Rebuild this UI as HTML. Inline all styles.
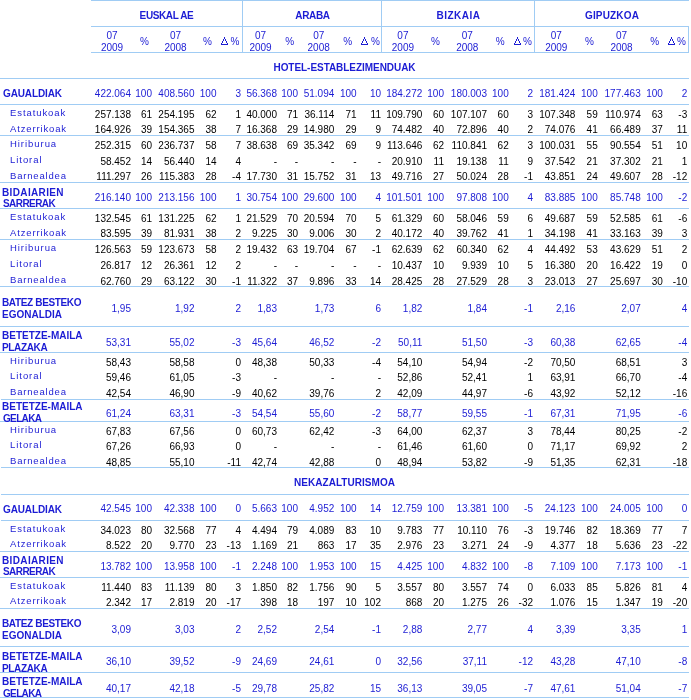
<!DOCTYPE html>
<html><head><meta charset="utf-8"><style>
html,body{margin:0;padding:0;background:#fff;}
body{width:691px;height:700px;position:relative;overflow:hidden;font-family:"Liberation Sans",sans-serif;font-size:10px;line-height:12px;}
.t{position:absolute;white-space:nowrap;}
body{will-change:transform;}
.l{position:absolute;background:#a0ccf4;}
.d{position:absolute;background:#1c1cd4;}
</style></head><body>
<div class="l" style="top:0px;left:91px;width:598px;height:1px"></div>
<div class="l" style="top:26px;left:91px;width:598px;height:1px"></div>
<div class="l" style="top:52px;left:91px;width:598px;height:1px"></div>
<div class="l" style="top:78px;left:0px;width:689px;height:1px"></div>
<div class="l" style="top:104px;left:0px;width:689px;height:1px"></div>
<div class="l" style="top:135px;left:0px;width:689px;height:1px"></div>
<div class="l" style="top:182px;left:0px;width:689px;height:1px"></div>
<div class="l" style="top:208px;left:0px;width:689px;height:1px"></div>
<div class="l" style="top:239px;left:0px;width:689px;height:1px"></div>
<div class="l" style="top:286px;left:0px;width:689px;height:1px"></div>
<div class="l" style="top:326px;left:0px;width:689px;height:1px"></div>
<div class="l" style="top:352px;left:0px;width:689px;height:1px"></div>
<div class="l" style="top:399px;left:1px;width:688px;height:1px"></div>
<div class="l" style="top:421px;left:0px;width:689px;height:1px"></div>
<div class="l" style="top:467px;left:1px;width:688px;height:1px"></div>
<div class="l" style="top:494px;left:1px;width:688px;height:1px"></div>
<div class="l" style="top:520px;left:1px;width:688px;height:1px"></div>
<div class="l" style="top:551px;left:0px;width:689px;height:1px"></div>
<div class="l" style="top:577px;left:0px;width:689px;height:1px"></div>
<div class="l" style="top:608px;left:0px;width:689px;height:1px"></div>
<div class="l" style="top:646px;left:0px;width:689px;height:1px"></div>
<div class="l" style="top:672px;left:0px;width:689px;height:1px"></div>
<div class="l" style="top:697px;left:0px;width:689px;height:1px"></div>
<div class="l" style="left:242px;top:0px;height:53px;width:1px"></div>
<div class="l" style="left:381px;top:0px;height:53px;width:1px"></div>
<div class="l" style="left:534px;top:0px;height:53px;width:1px"></div>
<div class="l" style="left:688px;top:26px;height:27px;width:1px"></div>
<div class="t" style="top:10px;color:#1c1cd4;font-weight:bold;letter-spacing:-0.38px;left:66.5px;width:200px;text-align:center;">EUSKAL AE</div>
<div class="t" style="top:30px;color:#1c1cd4;left:12px;width:200px;text-align:center;">07</div>
<div class="t" style="top:42px;color:#1c1cd4;left:12px;width:200px;text-align:center;">2009</div>
<div class="t" style="top:36px;color:#1c1cd4;left:44.400000000000006px;width:200px;text-align:center;">%</div>
<div class="t" style="top:30px;color:#1c1cd4;left:75.5px;width:200px;text-align:center;">07</div>
<div class="t" style="top:42px;color:#1c1cd4;left:75.5px;width:200px;text-align:center;">2008</div>
<div class="t" style="top:36px;color:#1c1cd4;left:107.5px;width:200px;text-align:center;">%</div>
<div class="t" style="top:36px;color:#1c1cd4;right:451.5px;">%</div>
<div class="d" style="left:224px;top:37px;width:1px;height:2px"></div>
<div class="d" style="left:223px;top:39px;width:1px;height:2px"></div>
<div class="d" style="left:225px;top:39px;width:1px;height:2px"></div>
<div class="d" style="left:222px;top:41px;width:1px;height:2px"></div>
<div class="d" style="left:226px;top:41px;width:1px;height:2px"></div>
<div class="d" style="left:221px;top:43px;width:1px;height:1px"></div>
<div class="d" style="left:227px;top:43px;width:1px;height:1px"></div>
<div class="d" style="left:221px;top:44px;width:7px;height:1px"></div>
<div class="t" style="top:10px;color:#1c1cd4;font-weight:bold;letter-spacing:-0.33px;left:212.5px;width:200px;text-align:center;">ARABA</div>
<div class="t" style="top:30px;color:#1c1cd4;left:160.5px;width:200px;text-align:center;">07</div>
<div class="t" style="top:42px;color:#1c1cd4;left:160.5px;width:200px;text-align:center;">2009</div>
<div class="t" style="top:36px;color:#1c1cd4;left:189.7px;width:200px;text-align:center;">%</div>
<div class="t" style="top:30px;color:#1c1cd4;left:218.7px;width:200px;text-align:center;">07</div>
<div class="t" style="top:42px;color:#1c1cd4;left:218.7px;width:200px;text-align:center;">2008</div>
<div class="t" style="top:36px;color:#1c1cd4;left:247.60000000000002px;width:200px;text-align:center;">%</div>
<div class="t" style="top:36px;color:#1c1cd4;right:311px;">%</div>
<div class="d" style="left:364px;top:37px;width:1px;height:2px"></div>
<div class="d" style="left:363px;top:39px;width:1px;height:2px"></div>
<div class="d" style="left:365px;top:39px;width:1px;height:2px"></div>
<div class="d" style="left:362px;top:41px;width:1px;height:2px"></div>
<div class="d" style="left:366px;top:41px;width:1px;height:2px"></div>
<div class="d" style="left:361px;top:43px;width:1px;height:1px"></div>
<div class="d" style="left:367px;top:43px;width:1px;height:1px"></div>
<div class="d" style="left:361px;top:44px;width:7px;height:1px"></div>
<div class="t" style="top:10px;color:#1c1cd4;font-weight:bold;letter-spacing:0.5px;left:358.5px;width:200px;text-align:center;">BIZKAIA</div>
<div class="t" style="top:30px;color:#1c1cd4;left:302.9px;width:200px;text-align:center;">07</div>
<div class="t" style="top:42px;color:#1c1cd4;left:302.9px;width:200px;text-align:center;">2009</div>
<div class="t" style="top:36px;color:#1c1cd4;left:335.5px;width:200px;text-align:center;">%</div>
<div class="t" style="top:30px;color:#1c1cd4;left:367.3px;width:200px;text-align:center;">07</div>
<div class="t" style="top:42px;color:#1c1cd4;left:367.3px;width:200px;text-align:center;">2008</div>
<div class="t" style="top:36px;color:#1c1cd4;left:400.3px;width:200px;text-align:center;">%</div>
<div class="t" style="top:36px;color:#1c1cd4;right:159px;">%</div>
<div class="d" style="left:517px;top:37px;width:1px;height:2px"></div>
<div class="d" style="left:516px;top:39px;width:1px;height:2px"></div>
<div class="d" style="left:518px;top:39px;width:1px;height:2px"></div>
<div class="d" style="left:515px;top:41px;width:1px;height:2px"></div>
<div class="d" style="left:519px;top:41px;width:1px;height:2px"></div>
<div class="d" style="left:514px;top:43px;width:1px;height:1px"></div>
<div class="d" style="left:520px;top:43px;width:1px;height:1px"></div>
<div class="d" style="left:514px;top:44px;width:7px;height:1px"></div>
<div class="t" style="top:10px;color:#1c1cd4;font-weight:bold;letter-spacing:0.16px;left:512.0px;width:200px;text-align:center;">GIPUZKOA</div>
<div class="t" style="top:30px;color:#1c1cd4;left:456.29999999999995px;width:200px;text-align:center;">07</div>
<div class="t" style="top:42px;color:#1c1cd4;left:456.29999999999995px;width:200px;text-align:center;">2009</div>
<div class="t" style="top:36px;color:#1c1cd4;left:489.5px;width:200px;text-align:center;">%</div>
<div class="t" style="top:30px;color:#1c1cd4;left:521.5px;width:200px;text-align:center;">07</div>
<div class="t" style="top:42px;color:#1c1cd4;left:521.5px;width:200px;text-align:center;">2008</div>
<div class="t" style="top:36px;color:#1c1cd4;left:554.6px;width:200px;text-align:center;">%</div>
<div class="t" style="top:36px;color:#1c1cd4;right:5px;">%</div>
<div class="d" style="left:671px;top:37px;width:1px;height:2px"></div>
<div class="d" style="left:670px;top:39px;width:1px;height:2px"></div>
<div class="d" style="left:672px;top:39px;width:1px;height:2px"></div>
<div class="d" style="left:669px;top:41px;width:1px;height:2px"></div>
<div class="d" style="left:673px;top:41px;width:1px;height:2px"></div>
<div class="d" style="left:668px;top:43px;width:1px;height:1px"></div>
<div class="d" style="left:674px;top:43px;width:1px;height:1px"></div>
<div class="d" style="left:668px;top:44px;width:7px;height:1px"></div>
<div class="t" style="top:62px;color:#1c1cd4;font-weight:bold;letter-spacing:-0.05px;left:244.5px;width:200px;text-align:center;">HOTEL-ESTABLEZIMENDUAK</div>
<div class="t" style="top:477px;color:#1c1cd4;font-weight:bold;letter-spacing:0.04px;left:244.5px;width:200px;text-align:center;">NEKAZALTURISMOA</div>
<div class="t" style="top:88px;color:#1c1cd4;font-weight:bold;letter-spacing:-0.12px;left:3px;">GAUALDIAK</div>
<div class="t" style="top:88px;color:#1c1cd4;right:560px;">422.064</div>
<div class="t" style="top:88px;color:#1c1cd4;right:539px;">100</div>
<div class="t" style="top:88px;color:#1c1cd4;right:496.5px;">408.560</div>
<div class="t" style="top:88px;color:#1c1cd4;right:474.5px;">100</div>
<div class="t" style="top:88px;color:#1c1cd4;right:450px;">3</div>
<div class="t" style="top:88px;color:#1c1cd4;right:414px;">56.368</div>
<div class="t" style="top:88px;color:#1c1cd4;right:393px;">100</div>
<div class="t" style="top:88px;color:#1c1cd4;right:356.7px;">51.094</div>
<div class="t" style="top:88px;color:#1c1cd4;right:334.4px;">100</div>
<div class="t" style="top:88px;color:#1c1cd4;right:310px;">10</div>
<div class="t" style="top:88px;color:#1c1cd4;right:268.7px;">184.272</div>
<div class="t" style="top:88px;color:#1c1cd4;right:247px;">100</div>
<div class="t" style="top:88px;color:#1c1cd4;right:204px;">180.003</div>
<div class="t" style="top:88px;color:#1c1cd4;right:182.3px;">100</div>
<div class="t" style="top:88px;color:#1c1cd4;right:158px;">2</div>
<div class="t" style="top:88px;color:#1c1cd4;right:115.60000000000002px;">181.424</div>
<div class="t" style="top:88px;color:#1c1cd4;right:93.29999999999995px;">100</div>
<div class="t" style="top:88px;color:#1c1cd4;right:50.299999999999955px;">177.463</div>
<div class="t" style="top:88px;color:#1c1cd4;right:28.100000000000023px;">100</div>
<div class="t" style="top:88px;color:#1c1cd4;right:3.7999999999999545px;">2</div>
<div class="t" style="top:107px;color:#1c1cd4;letter-spacing:0.92px;font-size:9.5px;left:10px;">Estatukoak</div>
<div class="t" style="top:109px;color:#000;right:560px;">257.138</div>
<div class="t" style="top:109px;color:#000;right:539px;">61</div>
<div class="t" style="top:109px;color:#000;right:496.5px;">254.195</div>
<div class="t" style="top:109px;color:#000;right:474.5px;">62</div>
<div class="t" style="top:109px;color:#000;right:450px;">1</div>
<div class="t" style="top:109px;color:#000;right:414px;">40.000</div>
<div class="t" style="top:109px;color:#000;right:393px;">71</div>
<div class="t" style="top:109px;color:#000;right:356.7px;">36.114</div>
<div class="t" style="top:109px;color:#000;right:334.4px;">71</div>
<div class="t" style="top:109px;color:#000;right:310px;">11</div>
<div class="t" style="top:109px;color:#000;right:268.7px;">109.790</div>
<div class="t" style="top:109px;color:#000;right:247px;">60</div>
<div class="t" style="top:109px;color:#000;right:204px;">107.107</div>
<div class="t" style="top:109px;color:#000;right:182.3px;">60</div>
<div class="t" style="top:109px;color:#000;right:158px;">3</div>
<div class="t" style="top:109px;color:#000;right:115.60000000000002px;">107.348</div>
<div class="t" style="top:109px;color:#000;right:93.29999999999995px;">59</div>
<div class="t" style="top:109px;color:#000;right:50.299999999999955px;">110.974</div>
<div class="t" style="top:109px;color:#000;right:28.100000000000023px;">63</div>
<div class="t" style="top:109px;color:#000;right:3.7999999999999545px;">-3</div>
<div class="t" style="top:123px;color:#1c1cd4;letter-spacing:0.86px;font-size:9.5px;left:10px;">Atzerrikoak</div>
<div class="t" style="top:124px;color:#000;right:560px;">164.926</div>
<div class="t" style="top:124px;color:#000;right:539px;">39</div>
<div class="t" style="top:124px;color:#000;right:496.5px;">154.365</div>
<div class="t" style="top:124px;color:#000;right:474.5px;">38</div>
<div class="t" style="top:124px;color:#000;right:450px;">7</div>
<div class="t" style="top:124px;color:#000;right:414px;">16.368</div>
<div class="t" style="top:124px;color:#000;right:393px;">29</div>
<div class="t" style="top:124px;color:#000;right:356.7px;">14.980</div>
<div class="t" style="top:124px;color:#000;right:334.4px;">29</div>
<div class="t" style="top:124px;color:#000;right:310px;">9</div>
<div class="t" style="top:124px;color:#000;right:268.7px;">74.482</div>
<div class="t" style="top:124px;color:#000;right:247px;">40</div>
<div class="t" style="top:124px;color:#000;right:204px;">72.896</div>
<div class="t" style="top:124px;color:#000;right:182.3px;">40</div>
<div class="t" style="top:124px;color:#000;right:158px;">2</div>
<div class="t" style="top:124px;color:#000;right:115.60000000000002px;">74.076</div>
<div class="t" style="top:124px;color:#000;right:93.29999999999995px;">41</div>
<div class="t" style="top:124px;color:#000;right:50.299999999999955px;">66.489</div>
<div class="t" style="top:124px;color:#000;right:28.100000000000023px;">37</div>
<div class="t" style="top:124px;color:#000;right:3.7999999999999545px;">11</div>
<div class="t" style="top:138px;color:#1c1cd4;letter-spacing:0.95px;font-size:9.5px;left:10px;">Hiriburua</div>
<div class="t" style="top:140px;color:#000;right:560px;">252.315</div>
<div class="t" style="top:140px;color:#000;right:539px;">60</div>
<div class="t" style="top:140px;color:#000;right:496.5px;">236.737</div>
<div class="t" style="top:140px;color:#000;right:474.5px;">58</div>
<div class="t" style="top:140px;color:#000;right:450px;">7</div>
<div class="t" style="top:140px;color:#000;right:414px;">38.638</div>
<div class="t" style="top:140px;color:#000;right:393px;">69</div>
<div class="t" style="top:140px;color:#000;right:356.7px;">35.342</div>
<div class="t" style="top:140px;color:#000;right:334.4px;">69</div>
<div class="t" style="top:140px;color:#000;right:310px;">9</div>
<div class="t" style="top:140px;color:#000;right:268.7px;">113.646</div>
<div class="t" style="top:140px;color:#000;right:247px;">62</div>
<div class="t" style="top:140px;color:#000;right:204px;">110.841</div>
<div class="t" style="top:140px;color:#000;right:182.3px;">62</div>
<div class="t" style="top:140px;color:#000;right:158px;">3</div>
<div class="t" style="top:140px;color:#000;right:115.60000000000002px;">100.031</div>
<div class="t" style="top:140px;color:#000;right:93.29999999999995px;">55</div>
<div class="t" style="top:140px;color:#000;right:50.299999999999955px;">90.554</div>
<div class="t" style="top:140px;color:#000;right:28.100000000000023px;">51</div>
<div class="t" style="top:140px;color:#000;right:3.7999999999999545px;">10</div>
<div class="t" style="top:154px;color:#1c1cd4;letter-spacing:0.95px;font-size:9.5px;left:10px;">Litoral</div>
<div class="t" style="top:156px;color:#000;right:560px;">58.452</div>
<div class="t" style="top:156px;color:#000;right:539px;">14</div>
<div class="t" style="top:156px;color:#000;right:496.5px;">56.440</div>
<div class="t" style="top:156px;color:#000;right:474.5px;">14</div>
<div class="t" style="top:156px;color:#000;right:450px;">4</div>
<div class="t" style="top:156px;color:#000;right:414px;">-</div>
<div class="t" style="top:156px;color:#000;right:393px;">-</div>
<div class="t" style="top:156px;color:#000;right:356.7px;">-</div>
<div class="t" style="top:156px;color:#000;right:334.4px;">-</div>
<div class="t" style="top:156px;color:#000;right:310px;">-</div>
<div class="t" style="top:156px;color:#000;right:268.7px;">20.910</div>
<div class="t" style="top:156px;color:#000;right:247px;">11</div>
<div class="t" style="top:156px;color:#000;right:204px;">19.138</div>
<div class="t" style="top:156px;color:#000;right:182.3px;">11</div>
<div class="t" style="top:156px;color:#000;right:158px;">9</div>
<div class="t" style="top:156px;color:#000;right:115.60000000000002px;">37.542</div>
<div class="t" style="top:156px;color:#000;right:93.29999999999995px;">21</div>
<div class="t" style="top:156px;color:#000;right:50.299999999999955px;">37.302</div>
<div class="t" style="top:156px;color:#000;right:28.100000000000023px;">21</div>
<div class="t" style="top:156px;color:#000;right:3.7999999999999545px;">1</div>
<div class="t" style="top:170px;color:#1c1cd4;letter-spacing:0.82px;font-size:9.5px;left:10px;">Barnealdea</div>
<div class="t" style="top:171px;color:#000;right:560px;">111.297</div>
<div class="t" style="top:171px;color:#000;right:539px;">26</div>
<div class="t" style="top:171px;color:#000;right:496.5px;">115.383</div>
<div class="t" style="top:171px;color:#000;right:474.5px;">28</div>
<div class="t" style="top:171px;color:#000;right:450px;">-4</div>
<div class="t" style="top:171px;color:#000;right:414px;">17.730</div>
<div class="t" style="top:171px;color:#000;right:393px;">31</div>
<div class="t" style="top:171px;color:#000;right:356.7px;">15.752</div>
<div class="t" style="top:171px;color:#000;right:334.4px;">31</div>
<div class="t" style="top:171px;color:#000;right:310px;">13</div>
<div class="t" style="top:171px;color:#000;right:268.7px;">49.716</div>
<div class="t" style="top:171px;color:#000;right:247px;">27</div>
<div class="t" style="top:171px;color:#000;right:204px;">50.024</div>
<div class="t" style="top:171px;color:#000;right:182.3px;">28</div>
<div class="t" style="top:171px;color:#000;right:158px;">-1</div>
<div class="t" style="top:171px;color:#000;right:115.60000000000002px;">43.851</div>
<div class="t" style="top:171px;color:#000;right:93.29999999999995px;">24</div>
<div class="t" style="top:171px;color:#000;right:50.299999999999955px;">49.607</div>
<div class="t" style="top:171px;color:#000;right:28.100000000000023px;">28</div>
<div class="t" style="top:171px;color:#000;right:3.7999999999999545px;">-12</div>
<div class="t" style="top:187px;color:#1c1cd4;font-weight:bold;letter-spacing:0.36px;left:2px;">BIDAIARIEN</div>
<div class="t" style="top:198px;color:#1c1cd4;font-weight:bold;letter-spacing:-0.56px;left:3px;">SARRERAK</div>
<div class="t" style="top:192px;color:#1c1cd4;right:560px;">216.140</div>
<div class="t" style="top:192px;color:#1c1cd4;right:539px;">100</div>
<div class="t" style="top:192px;color:#1c1cd4;right:496.5px;">213.156</div>
<div class="t" style="top:192px;color:#1c1cd4;right:474.5px;">100</div>
<div class="t" style="top:192px;color:#1c1cd4;right:450px;">1</div>
<div class="t" style="top:192px;color:#1c1cd4;right:414px;">30.754</div>
<div class="t" style="top:192px;color:#1c1cd4;right:393px;">100</div>
<div class="t" style="top:192px;color:#1c1cd4;right:356.7px;">29.600</div>
<div class="t" style="top:192px;color:#1c1cd4;right:334.4px;">100</div>
<div class="t" style="top:192px;color:#1c1cd4;right:310px;">4</div>
<div class="t" style="top:192px;color:#1c1cd4;right:268.7px;">101.501</div>
<div class="t" style="top:192px;color:#1c1cd4;right:247px;">100</div>
<div class="t" style="top:192px;color:#1c1cd4;right:204px;">97.808</div>
<div class="t" style="top:192px;color:#1c1cd4;right:182.3px;">100</div>
<div class="t" style="top:192px;color:#1c1cd4;right:158px;">4</div>
<div class="t" style="top:192px;color:#1c1cd4;right:115.60000000000002px;">83.885</div>
<div class="t" style="top:192px;color:#1c1cd4;right:93.29999999999995px;">100</div>
<div class="t" style="top:192px;color:#1c1cd4;right:50.299999999999955px;">85.748</div>
<div class="t" style="top:192px;color:#1c1cd4;right:28.100000000000023px;">100</div>
<div class="t" style="top:192px;color:#1c1cd4;right:3.7999999999999545px;">-2</div>
<div class="t" style="top:211px;color:#1c1cd4;letter-spacing:0.92px;font-size:9.5px;left:10px;">Estatukoak</div>
<div class="t" style="top:213px;color:#000;right:560px;">132.545</div>
<div class="t" style="top:213px;color:#000;right:539px;">61</div>
<div class="t" style="top:213px;color:#000;right:496.5px;">131.225</div>
<div class="t" style="top:213px;color:#000;right:474.5px;">62</div>
<div class="t" style="top:213px;color:#000;right:450px;">1</div>
<div class="t" style="top:213px;color:#000;right:414px;">21.529</div>
<div class="t" style="top:213px;color:#000;right:393px;">70</div>
<div class="t" style="top:213px;color:#000;right:356.7px;">20.594</div>
<div class="t" style="top:213px;color:#000;right:334.4px;">70</div>
<div class="t" style="top:213px;color:#000;right:310px;">5</div>
<div class="t" style="top:213px;color:#000;right:268.7px;">61.329</div>
<div class="t" style="top:213px;color:#000;right:247px;">60</div>
<div class="t" style="top:213px;color:#000;right:204px;">58.046</div>
<div class="t" style="top:213px;color:#000;right:182.3px;">59</div>
<div class="t" style="top:213px;color:#000;right:158px;">6</div>
<div class="t" style="top:213px;color:#000;right:115.60000000000002px;">49.687</div>
<div class="t" style="top:213px;color:#000;right:93.29999999999995px;">59</div>
<div class="t" style="top:213px;color:#000;right:50.299999999999955px;">52.585</div>
<div class="t" style="top:213px;color:#000;right:28.100000000000023px;">61</div>
<div class="t" style="top:213px;color:#000;right:3.7999999999999545px;">-6</div>
<div class="t" style="top:227px;color:#1c1cd4;letter-spacing:0.86px;font-size:9.5px;left:10px;">Atzerrikoak</div>
<div class="t" style="top:228px;color:#000;right:560px;">83.595</div>
<div class="t" style="top:228px;color:#000;right:539px;">39</div>
<div class="t" style="top:228px;color:#000;right:496.5px;">81.931</div>
<div class="t" style="top:228px;color:#000;right:474.5px;">38</div>
<div class="t" style="top:228px;color:#000;right:450px;">2</div>
<div class="t" style="top:228px;color:#000;right:414px;">9.225</div>
<div class="t" style="top:228px;color:#000;right:393px;">30</div>
<div class="t" style="top:228px;color:#000;right:356.7px;">9.006</div>
<div class="t" style="top:228px;color:#000;right:334.4px;">30</div>
<div class="t" style="top:228px;color:#000;right:310px;">2</div>
<div class="t" style="top:228px;color:#000;right:268.7px;">40.172</div>
<div class="t" style="top:228px;color:#000;right:247px;">40</div>
<div class="t" style="top:228px;color:#000;right:204px;">39.762</div>
<div class="t" style="top:228px;color:#000;right:182.3px;">41</div>
<div class="t" style="top:228px;color:#000;right:158px;">1</div>
<div class="t" style="top:228px;color:#000;right:115.60000000000002px;">34.198</div>
<div class="t" style="top:228px;color:#000;right:93.29999999999995px;">41</div>
<div class="t" style="top:228px;color:#000;right:50.299999999999955px;">33.163</div>
<div class="t" style="top:228px;color:#000;right:28.100000000000023px;">39</div>
<div class="t" style="top:228px;color:#000;right:3.7999999999999545px;">3</div>
<div class="t" style="top:242px;color:#1c1cd4;letter-spacing:0.95px;font-size:9.5px;left:10px;">Hiriburua</div>
<div class="t" style="top:244px;color:#000;right:560px;">126.563</div>
<div class="t" style="top:244px;color:#000;right:539px;">59</div>
<div class="t" style="top:244px;color:#000;right:496.5px;">123.673</div>
<div class="t" style="top:244px;color:#000;right:474.5px;">58</div>
<div class="t" style="top:244px;color:#000;right:450px;">2</div>
<div class="t" style="top:244px;color:#000;right:414px;">19.432</div>
<div class="t" style="top:244px;color:#000;right:393px;">63</div>
<div class="t" style="top:244px;color:#000;right:356.7px;">19.704</div>
<div class="t" style="top:244px;color:#000;right:334.4px;">67</div>
<div class="t" style="top:244px;color:#000;right:310px;">-1</div>
<div class="t" style="top:244px;color:#000;right:268.7px;">62.639</div>
<div class="t" style="top:244px;color:#000;right:247px;">62</div>
<div class="t" style="top:244px;color:#000;right:204px;">60.340</div>
<div class="t" style="top:244px;color:#000;right:182.3px;">62</div>
<div class="t" style="top:244px;color:#000;right:158px;">4</div>
<div class="t" style="top:244px;color:#000;right:115.60000000000002px;">44.492</div>
<div class="t" style="top:244px;color:#000;right:93.29999999999995px;">53</div>
<div class="t" style="top:244px;color:#000;right:50.299999999999955px;">43.629</div>
<div class="t" style="top:244px;color:#000;right:28.100000000000023px;">51</div>
<div class="t" style="top:244px;color:#000;right:3.7999999999999545px;">2</div>
<div class="t" style="top:258px;color:#1c1cd4;letter-spacing:0.95px;font-size:9.5px;left:10px;">Litoral</div>
<div class="t" style="top:260px;color:#000;right:560px;">26.817</div>
<div class="t" style="top:260px;color:#000;right:539px;">12</div>
<div class="t" style="top:260px;color:#000;right:496.5px;">26.361</div>
<div class="t" style="top:260px;color:#000;right:474.5px;">12</div>
<div class="t" style="top:260px;color:#000;right:450px;">2</div>
<div class="t" style="top:260px;color:#000;right:414px;">-</div>
<div class="t" style="top:260px;color:#000;right:393px;">-</div>
<div class="t" style="top:260px;color:#000;right:356.7px;">-</div>
<div class="t" style="top:260px;color:#000;right:334.4px;">-</div>
<div class="t" style="top:260px;color:#000;right:310px;">-</div>
<div class="t" style="top:260px;color:#000;right:268.7px;">10.437</div>
<div class="t" style="top:260px;color:#000;right:247px;">10</div>
<div class="t" style="top:260px;color:#000;right:204px;">9.939</div>
<div class="t" style="top:260px;color:#000;right:182.3px;">10</div>
<div class="t" style="top:260px;color:#000;right:158px;">5</div>
<div class="t" style="top:260px;color:#000;right:115.60000000000002px;">16.380</div>
<div class="t" style="top:260px;color:#000;right:93.29999999999995px;">20</div>
<div class="t" style="top:260px;color:#000;right:50.299999999999955px;">16.422</div>
<div class="t" style="top:260px;color:#000;right:28.100000000000023px;">19</div>
<div class="t" style="top:260px;color:#000;right:3.7999999999999545px;">0</div>
<div class="t" style="top:274px;color:#1c1cd4;letter-spacing:0.82px;font-size:9.5px;left:10px;">Barnealdea</div>
<div class="t" style="top:276px;color:#000;right:560px;">62.760</div>
<div class="t" style="top:276px;color:#000;right:539px;">29</div>
<div class="t" style="top:276px;color:#000;right:496.5px;">63.122</div>
<div class="t" style="top:276px;color:#000;right:474.5px;">30</div>
<div class="t" style="top:276px;color:#000;right:450px;">-1</div>
<div class="t" style="top:276px;color:#000;right:414px;">11.322</div>
<div class="t" style="top:276px;color:#000;right:393px;">37</div>
<div class="t" style="top:276px;color:#000;right:356.7px;">9.896</div>
<div class="t" style="top:276px;color:#000;right:334.4px;">33</div>
<div class="t" style="top:276px;color:#000;right:310px;">14</div>
<div class="t" style="top:276px;color:#000;right:268.7px;">28.425</div>
<div class="t" style="top:276px;color:#000;right:247px;">28</div>
<div class="t" style="top:276px;color:#000;right:204px;">27.529</div>
<div class="t" style="top:276px;color:#000;right:182.3px;">28</div>
<div class="t" style="top:276px;color:#000;right:158px;">3</div>
<div class="t" style="top:276px;color:#000;right:115.60000000000002px;">23.013</div>
<div class="t" style="top:276px;color:#000;right:93.29999999999995px;">27</div>
<div class="t" style="top:276px;color:#000;right:50.299999999999955px;">25.697</div>
<div class="t" style="top:276px;color:#000;right:28.100000000000023px;">30</div>
<div class="t" style="top:276px;color:#000;right:3.7999999999999545px;">-10</div>
<div class="t" style="top:297px;color:#1c1cd4;font-weight:bold;letter-spacing:-0.35px;left:2px;">BATEZ BESTEKO</div>
<div class="t" style="top:309px;color:#1c1cd4;font-weight:bold;left:2px;">EGONALDIA</div>
<div class="t" style="top:303px;color:#1c1cd4;right:560px;">1,95</div>
<div class="t" style="top:303px;color:#1c1cd4;right:496.5px;">1,92</div>
<div class="t" style="top:303px;color:#1c1cd4;right:450px;">2</div>
<div class="t" style="top:303px;color:#1c1cd4;right:414px;">1,83</div>
<div class="t" style="top:303px;color:#1c1cd4;right:356.7px;">1,73</div>
<div class="t" style="top:303px;color:#1c1cd4;right:310px;">6</div>
<div class="t" style="top:303px;color:#1c1cd4;right:268.7px;">1,82</div>
<div class="t" style="top:303px;color:#1c1cd4;right:204px;">1,84</div>
<div class="t" style="top:303px;color:#1c1cd4;right:158px;">-1</div>
<div class="t" style="top:303px;color:#1c1cd4;right:115.60000000000002px;">2,16</div>
<div class="t" style="top:303px;color:#1c1cd4;right:50.299999999999955px;">2,07</div>
<div class="t" style="top:303px;color:#1c1cd4;right:3.7999999999999545px;">4</div>
<div class="t" style="top:330px;color:#1c1cd4;font-weight:bold;left:2px;">BETETZE-MAILA</div>
<div class="t" style="top:342px;color:#1c1cd4;font-weight:bold;letter-spacing:-0.35px;left:2px;">PLAZAKA</div>
<div class="t" style="top:337px;color:#1c1cd4;right:560px;">53,31</div>
<div class="t" style="top:337px;color:#1c1cd4;right:496.5px;">55,02</div>
<div class="t" style="top:337px;color:#1c1cd4;right:450px;">-3</div>
<div class="t" style="top:337px;color:#1c1cd4;right:414px;">45,64</div>
<div class="t" style="top:337px;color:#1c1cd4;right:356.7px;">46,52</div>
<div class="t" style="top:337px;color:#1c1cd4;right:310px;">-2</div>
<div class="t" style="top:337px;color:#1c1cd4;right:268.7px;">50,11</div>
<div class="t" style="top:337px;color:#1c1cd4;right:204px;">51,50</div>
<div class="t" style="top:337px;color:#1c1cd4;right:158px;">-3</div>
<div class="t" style="top:337px;color:#1c1cd4;right:115.60000000000002px;">60,38</div>
<div class="t" style="top:337px;color:#1c1cd4;right:50.299999999999955px;">62,65</div>
<div class="t" style="top:337px;color:#1c1cd4;right:3.7999999999999545px;">-4</div>
<div class="t" style="top:355px;color:#1c1cd4;letter-spacing:0.95px;font-size:9.5px;left:10px;">Hiriburua</div>
<div class="t" style="top:357px;color:#000;right:560px;">58,43</div>
<div class="t" style="top:357px;color:#000;right:496.5px;">58,58</div>
<div class="t" style="top:357px;color:#000;right:450px;">0</div>
<div class="t" style="top:357px;color:#000;right:414px;">48,38</div>
<div class="t" style="top:357px;color:#000;right:356.7px;">50,33</div>
<div class="t" style="top:357px;color:#000;right:310px;">-4</div>
<div class="t" style="top:357px;color:#000;right:268.7px;">54,10</div>
<div class="t" style="top:357px;color:#000;right:204px;">54,94</div>
<div class="t" style="top:357px;color:#000;right:158px;">-2</div>
<div class="t" style="top:357px;color:#000;right:115.60000000000002px;">70,50</div>
<div class="t" style="top:357px;color:#000;right:50.299999999999955px;">68,51</div>
<div class="t" style="top:357px;color:#000;right:3.7999999999999545px;">3</div>
<div class="t" style="top:370px;color:#1c1cd4;letter-spacing:0.95px;font-size:9.5px;left:10px;">Litoral</div>
<div class="t" style="top:372px;color:#000;right:560px;">59,46</div>
<div class="t" style="top:372px;color:#000;right:496.5px;">61,05</div>
<div class="t" style="top:372px;color:#000;right:450px;">-3</div>
<div class="t" style="top:372px;color:#000;right:414px;">-</div>
<div class="t" style="top:372px;color:#000;right:356.7px;">-</div>
<div class="t" style="top:372px;color:#000;right:310px;">-</div>
<div class="t" style="top:372px;color:#000;right:268.7px;">52,86</div>
<div class="t" style="top:372px;color:#000;right:204px;">52,41</div>
<div class="t" style="top:372px;color:#000;right:158px;">1</div>
<div class="t" style="top:372px;color:#000;right:115.60000000000002px;">63,91</div>
<div class="t" style="top:372px;color:#000;right:50.299999999999955px;">66,70</div>
<div class="t" style="top:372px;color:#000;right:3.7999999999999545px;">-4</div>
<div class="t" style="top:386px;color:#1c1cd4;letter-spacing:0.82px;font-size:9.5px;left:10px;">Barnealdea</div>
<div class="t" style="top:388px;color:#000;right:560px;">42,54</div>
<div class="t" style="top:388px;color:#000;right:496.5px;">46,90</div>
<div class="t" style="top:388px;color:#000;right:450px;">-9</div>
<div class="t" style="top:388px;color:#000;right:414px;">40,62</div>
<div class="t" style="top:388px;color:#000;right:356.7px;">39,76</div>
<div class="t" style="top:388px;color:#000;right:310px;">2</div>
<div class="t" style="top:388px;color:#000;right:268.7px;">42,09</div>
<div class="t" style="top:388px;color:#000;right:204px;">44,97</div>
<div class="t" style="top:388px;color:#000;right:158px;">-6</div>
<div class="t" style="top:388px;color:#000;right:115.60000000000002px;">43,92</div>
<div class="t" style="top:388px;color:#000;right:50.299999999999955px;">52,12</div>
<div class="t" style="top:388px;color:#000;right:3.7999999999999545px;">-16</div>
<div class="t" style="top:401px;color:#1c1cd4;font-weight:bold;left:2px;">BETETZE-MAILA</div>
<div class="t" style="top:413px;color:#1c1cd4;font-weight:bold;letter-spacing:-0.66px;left:3px;">GELAKA</div>
<div class="t" style="top:408px;color:#1c1cd4;right:560px;">61,24</div>
<div class="t" style="top:408px;color:#1c1cd4;right:496.5px;">63,31</div>
<div class="t" style="top:408px;color:#1c1cd4;right:450px;">-3</div>
<div class="t" style="top:408px;color:#1c1cd4;right:414px;">54,54</div>
<div class="t" style="top:408px;color:#1c1cd4;right:356.7px;">55,60</div>
<div class="t" style="top:408px;color:#1c1cd4;right:310px;">-2</div>
<div class="t" style="top:408px;color:#1c1cd4;right:268.7px;">58,77</div>
<div class="t" style="top:408px;color:#1c1cd4;right:204px;">59,55</div>
<div class="t" style="top:408px;color:#1c1cd4;right:158px;">-1</div>
<div class="t" style="top:408px;color:#1c1cd4;right:115.60000000000002px;">67,31</div>
<div class="t" style="top:408px;color:#1c1cd4;right:50.299999999999955px;">71,95</div>
<div class="t" style="top:408px;color:#1c1cd4;right:3.7999999999999545px;">-6</div>
<div class="t" style="top:424px;color:#1c1cd4;letter-spacing:0.95px;font-size:9.5px;left:10px;">Hiriburua</div>
<div class="t" style="top:426px;color:#000;right:560px;">67,83</div>
<div class="t" style="top:426px;color:#000;right:496.5px;">67,56</div>
<div class="t" style="top:426px;color:#000;right:450px;">0</div>
<div class="t" style="top:426px;color:#000;right:414px;">60,73</div>
<div class="t" style="top:426px;color:#000;right:356.7px;">62,42</div>
<div class="t" style="top:426px;color:#000;right:310px;">-3</div>
<div class="t" style="top:426px;color:#000;right:268.7px;">64,00</div>
<div class="t" style="top:426px;color:#000;right:204px;">62,37</div>
<div class="t" style="top:426px;color:#000;right:158px;">3</div>
<div class="t" style="top:426px;color:#000;right:115.60000000000002px;">78,44</div>
<div class="t" style="top:426px;color:#000;right:50.299999999999955px;">80,25</div>
<div class="t" style="top:426px;color:#000;right:3.7999999999999545px;">-2</div>
<div class="t" style="top:439px;color:#1c1cd4;letter-spacing:0.95px;font-size:9.5px;left:10px;">Litoral</div>
<div class="t" style="top:441px;color:#000;right:560px;">67,26</div>
<div class="t" style="top:441px;color:#000;right:496.5px;">66,93</div>
<div class="t" style="top:441px;color:#000;right:450px;">0</div>
<div class="t" style="top:441px;color:#000;right:414px;">-</div>
<div class="t" style="top:441px;color:#000;right:356.7px;">-</div>
<div class="t" style="top:441px;color:#000;right:310px;">-</div>
<div class="t" style="top:441px;color:#000;right:268.7px;">61,46</div>
<div class="t" style="top:441px;color:#000;right:204px;">61,60</div>
<div class="t" style="top:441px;color:#000;right:158px;">0</div>
<div class="t" style="top:441px;color:#000;right:115.60000000000002px;">71,17</div>
<div class="t" style="top:441px;color:#000;right:50.299999999999955px;">69,92</div>
<div class="t" style="top:441px;color:#000;right:3.7999999999999545px;">2</div>
<div class="t" style="top:455px;color:#1c1cd4;letter-spacing:0.82px;font-size:9.5px;left:10px;">Barnealdea</div>
<div class="t" style="top:457px;color:#000;right:560px;">48,85</div>
<div class="t" style="top:457px;color:#000;right:496.5px;">55,10</div>
<div class="t" style="top:457px;color:#000;right:450px;">-11</div>
<div class="t" style="top:457px;color:#000;right:414px;">42,74</div>
<div class="t" style="top:457px;color:#000;right:356.7px;">42,88</div>
<div class="t" style="top:457px;color:#000;right:310px;">0</div>
<div class="t" style="top:457px;color:#000;right:268.7px;">48,94</div>
<div class="t" style="top:457px;color:#000;right:204px;">53,82</div>
<div class="t" style="top:457px;color:#000;right:158px;">-9</div>
<div class="t" style="top:457px;color:#000;right:115.60000000000002px;">51,35</div>
<div class="t" style="top:457px;color:#000;right:50.299999999999955px;">62,31</div>
<div class="t" style="top:457px;color:#000;right:3.7999999999999545px;">-18</div>
<div class="t" style="top:504px;color:#1c1cd4;font-weight:bold;letter-spacing:-0.12px;left:3px;">GAUALDIAK</div>
<div class="t" style="top:503px;color:#1c1cd4;right:560px;">42.545</div>
<div class="t" style="top:503px;color:#1c1cd4;right:539px;">100</div>
<div class="t" style="top:503px;color:#1c1cd4;right:496.5px;">42.338</div>
<div class="t" style="top:503px;color:#1c1cd4;right:474.5px;">100</div>
<div class="t" style="top:503px;color:#1c1cd4;right:450px;">0</div>
<div class="t" style="top:503px;color:#1c1cd4;right:414px;">5.663</div>
<div class="t" style="top:503px;color:#1c1cd4;right:393px;">100</div>
<div class="t" style="top:503px;color:#1c1cd4;right:356.7px;">4.952</div>
<div class="t" style="top:503px;color:#1c1cd4;right:334.4px;">100</div>
<div class="t" style="top:503px;color:#1c1cd4;right:310px;">14</div>
<div class="t" style="top:503px;color:#1c1cd4;right:268.7px;">12.759</div>
<div class="t" style="top:503px;color:#1c1cd4;right:247px;">100</div>
<div class="t" style="top:503px;color:#1c1cd4;right:204px;">13.381</div>
<div class="t" style="top:503px;color:#1c1cd4;right:182.3px;">100</div>
<div class="t" style="top:503px;color:#1c1cd4;right:158px;">-5</div>
<div class="t" style="top:503px;color:#1c1cd4;right:115.60000000000002px;">24.123</div>
<div class="t" style="top:503px;color:#1c1cd4;right:93.29999999999995px;">100</div>
<div class="t" style="top:503px;color:#1c1cd4;right:50.299999999999955px;">24.005</div>
<div class="t" style="top:503px;color:#1c1cd4;right:28.100000000000023px;">100</div>
<div class="t" style="top:503px;color:#1c1cd4;right:3.7999999999999545px;">0</div>
<div class="t" style="top:523px;color:#1c1cd4;letter-spacing:0.92px;font-size:9.5px;left:10px;">Estatukoak</div>
<div class="t" style="top:525px;color:#000;right:560px;">34.023</div>
<div class="t" style="top:525px;color:#000;right:539px;">80</div>
<div class="t" style="top:525px;color:#000;right:496.5px;">32.568</div>
<div class="t" style="top:525px;color:#000;right:474.5px;">77</div>
<div class="t" style="top:525px;color:#000;right:450px;">4</div>
<div class="t" style="top:525px;color:#000;right:414px;">4.494</div>
<div class="t" style="top:525px;color:#000;right:393px;">79</div>
<div class="t" style="top:525px;color:#000;right:356.7px;">4.089</div>
<div class="t" style="top:525px;color:#000;right:334.4px;">83</div>
<div class="t" style="top:525px;color:#000;right:310px;">10</div>
<div class="t" style="top:525px;color:#000;right:268.7px;">9.783</div>
<div class="t" style="top:525px;color:#000;right:247px;">77</div>
<div class="t" style="top:525px;color:#000;right:204px;">10.110</div>
<div class="t" style="top:525px;color:#000;right:182.3px;">76</div>
<div class="t" style="top:525px;color:#000;right:158px;">-3</div>
<div class="t" style="top:525px;color:#000;right:115.60000000000002px;">19.746</div>
<div class="t" style="top:525px;color:#000;right:93.29999999999995px;">82</div>
<div class="t" style="top:525px;color:#000;right:50.299999999999955px;">18.369</div>
<div class="t" style="top:525px;color:#000;right:28.100000000000023px;">77</div>
<div class="t" style="top:525px;color:#000;right:3.7999999999999545px;">7</div>
<div class="t" style="top:538px;color:#1c1cd4;letter-spacing:0.86px;font-size:9.5px;left:10px;">Atzerrikoak</div>
<div class="t" style="top:540px;color:#000;right:560px;">8.522</div>
<div class="t" style="top:540px;color:#000;right:539px;">20</div>
<div class="t" style="top:540px;color:#000;right:496.5px;">9.770</div>
<div class="t" style="top:540px;color:#000;right:474.5px;">23</div>
<div class="t" style="top:540px;color:#000;right:450px;">-13</div>
<div class="t" style="top:540px;color:#000;right:414px;">1.169</div>
<div class="t" style="top:540px;color:#000;right:393px;">21</div>
<div class="t" style="top:540px;color:#000;right:356.7px;">863</div>
<div class="t" style="top:540px;color:#000;right:334.4px;">17</div>
<div class="t" style="top:540px;color:#000;right:310px;">35</div>
<div class="t" style="top:540px;color:#000;right:268.7px;">2.976</div>
<div class="t" style="top:540px;color:#000;right:247px;">23</div>
<div class="t" style="top:540px;color:#000;right:204px;">3.271</div>
<div class="t" style="top:540px;color:#000;right:182.3px;">24</div>
<div class="t" style="top:540px;color:#000;right:158px;">-9</div>
<div class="t" style="top:540px;color:#000;right:115.60000000000002px;">4.377</div>
<div class="t" style="top:540px;color:#000;right:93.29999999999995px;">18</div>
<div class="t" style="top:540px;color:#000;right:50.299999999999955px;">5.636</div>
<div class="t" style="top:540px;color:#000;right:28.100000000000023px;">23</div>
<div class="t" style="top:540px;color:#000;right:3.7999999999999545px;">-22</div>
<div class="t" style="top:555px;color:#1c1cd4;font-weight:bold;letter-spacing:0.36px;left:2px;">BIDAIARIEN</div>
<div class="t" style="top:566px;color:#1c1cd4;font-weight:bold;letter-spacing:-0.56px;left:3px;">SARRERAK</div>
<div class="t" style="top:561px;color:#1c1cd4;right:560px;">13.782</div>
<div class="t" style="top:561px;color:#1c1cd4;right:539px;">100</div>
<div class="t" style="top:561px;color:#1c1cd4;right:496.5px;">13.958</div>
<div class="t" style="top:561px;color:#1c1cd4;right:474.5px;">100</div>
<div class="t" style="top:561px;color:#1c1cd4;right:450px;">-1</div>
<div class="t" style="top:561px;color:#1c1cd4;right:414px;">2.248</div>
<div class="t" style="top:561px;color:#1c1cd4;right:393px;">100</div>
<div class="t" style="top:561px;color:#1c1cd4;right:356.7px;">1.953</div>
<div class="t" style="top:561px;color:#1c1cd4;right:334.4px;">100</div>
<div class="t" style="top:561px;color:#1c1cd4;right:310px;">15</div>
<div class="t" style="top:561px;color:#1c1cd4;right:268.7px;">4.425</div>
<div class="t" style="top:561px;color:#1c1cd4;right:247px;">100</div>
<div class="t" style="top:561px;color:#1c1cd4;right:204px;">4.832</div>
<div class="t" style="top:561px;color:#1c1cd4;right:182.3px;">100</div>
<div class="t" style="top:561px;color:#1c1cd4;right:158px;">-8</div>
<div class="t" style="top:561px;color:#1c1cd4;right:115.60000000000002px;">7.109</div>
<div class="t" style="top:561px;color:#1c1cd4;right:93.29999999999995px;">100</div>
<div class="t" style="top:561px;color:#1c1cd4;right:50.299999999999955px;">7.173</div>
<div class="t" style="top:561px;color:#1c1cd4;right:28.100000000000023px;">100</div>
<div class="t" style="top:561px;color:#1c1cd4;right:3.7999999999999545px;">-1</div>
<div class="t" style="top:580px;color:#1c1cd4;letter-spacing:0.92px;font-size:9.5px;left:10px;">Estatukoak</div>
<div class="t" style="top:582px;color:#000;right:560px;">11.440</div>
<div class="t" style="top:582px;color:#000;right:539px;">83</div>
<div class="t" style="top:582px;color:#000;right:496.5px;">11.139</div>
<div class="t" style="top:582px;color:#000;right:474.5px;">80</div>
<div class="t" style="top:582px;color:#000;right:450px;">3</div>
<div class="t" style="top:582px;color:#000;right:414px;">1.850</div>
<div class="t" style="top:582px;color:#000;right:393px;">82</div>
<div class="t" style="top:582px;color:#000;right:356.7px;">1.756</div>
<div class="t" style="top:582px;color:#000;right:334.4px;">90</div>
<div class="t" style="top:582px;color:#000;right:310px;">5</div>
<div class="t" style="top:582px;color:#000;right:268.7px;">3.557</div>
<div class="t" style="top:582px;color:#000;right:247px;">80</div>
<div class="t" style="top:582px;color:#000;right:204px;">3.557</div>
<div class="t" style="top:582px;color:#000;right:182.3px;">74</div>
<div class="t" style="top:582px;color:#000;right:158px;">0</div>
<div class="t" style="top:582px;color:#000;right:115.60000000000002px;">6.033</div>
<div class="t" style="top:582px;color:#000;right:93.29999999999995px;">85</div>
<div class="t" style="top:582px;color:#000;right:50.299999999999955px;">5.826</div>
<div class="t" style="top:582px;color:#000;right:28.100000000000023px;">81</div>
<div class="t" style="top:582px;color:#000;right:3.7999999999999545px;">4</div>
<div class="t" style="top:595px;color:#1c1cd4;letter-spacing:0.86px;font-size:9.5px;left:10px;">Atzerrikoak</div>
<div class="t" style="top:597px;color:#000;right:560px;">2.342</div>
<div class="t" style="top:597px;color:#000;right:539px;">17</div>
<div class="t" style="top:597px;color:#000;right:496.5px;">2.819</div>
<div class="t" style="top:597px;color:#000;right:474.5px;">20</div>
<div class="t" style="top:597px;color:#000;right:450px;">-17</div>
<div class="t" style="top:597px;color:#000;right:414px;">398</div>
<div class="t" style="top:597px;color:#000;right:393px;">18</div>
<div class="t" style="top:597px;color:#000;right:356.7px;">197</div>
<div class="t" style="top:597px;color:#000;right:334.4px;">10</div>
<div class="t" style="top:597px;color:#000;right:310px;">102</div>
<div class="t" style="top:597px;color:#000;right:268.7px;">868</div>
<div class="t" style="top:597px;color:#000;right:247px;">20</div>
<div class="t" style="top:597px;color:#000;right:204px;">1.275</div>
<div class="t" style="top:597px;color:#000;right:182.3px;">26</div>
<div class="t" style="top:597px;color:#000;right:158px;">-32</div>
<div class="t" style="top:597px;color:#000;right:115.60000000000002px;">1.076</div>
<div class="t" style="top:597px;color:#000;right:93.29999999999995px;">15</div>
<div class="t" style="top:597px;color:#000;right:50.299999999999955px;">1.347</div>
<div class="t" style="top:597px;color:#000;right:28.100000000000023px;">19</div>
<div class="t" style="top:597px;color:#000;right:3.7999999999999545px;">-20</div>
<div class="t" style="top:618px;color:#1c1cd4;font-weight:bold;letter-spacing:-0.35px;left:2px;">BATEZ BESTEKO</div>
<div class="t" style="top:630px;color:#1c1cd4;font-weight:bold;left:2px;">EGONALDIA</div>
<div class="t" style="top:624px;color:#1c1cd4;right:560px;">3,09</div>
<div class="t" style="top:624px;color:#1c1cd4;right:496.5px;">3,03</div>
<div class="t" style="top:624px;color:#1c1cd4;right:450px;">2</div>
<div class="t" style="top:624px;color:#1c1cd4;right:414px;">2,52</div>
<div class="t" style="top:624px;color:#1c1cd4;right:356.7px;">2,54</div>
<div class="t" style="top:624px;color:#1c1cd4;right:310px;">-1</div>
<div class="t" style="top:624px;color:#1c1cd4;right:268.7px;">2,88</div>
<div class="t" style="top:624px;color:#1c1cd4;right:204px;">2,77</div>
<div class="t" style="top:624px;color:#1c1cd4;right:158px;">4</div>
<div class="t" style="top:624px;color:#1c1cd4;right:115.60000000000002px;">3,39</div>
<div class="t" style="top:624px;color:#1c1cd4;right:50.299999999999955px;">3,35</div>
<div class="t" style="top:624px;color:#1c1cd4;right:3.7999999999999545px;">1</div>
<div class="t" style="top:651px;color:#1c1cd4;font-weight:bold;left:2px;">BETETZE-MAILA</div>
<div class="t" style="top:663px;color:#1c1cd4;font-weight:bold;letter-spacing:-0.35px;left:2px;">PLAZAKA</div>
<div class="t" style="top:656px;color:#1c1cd4;right:560px;">36,10</div>
<div class="t" style="top:656px;color:#1c1cd4;right:496.5px;">39,52</div>
<div class="t" style="top:656px;color:#1c1cd4;right:450px;">-9</div>
<div class="t" style="top:656px;color:#1c1cd4;right:414px;">24,69</div>
<div class="t" style="top:656px;color:#1c1cd4;right:356.7px;">24,61</div>
<div class="t" style="top:656px;color:#1c1cd4;right:310px;">0</div>
<div class="t" style="top:656px;color:#1c1cd4;right:268.7px;">32,56</div>
<div class="t" style="top:656px;color:#1c1cd4;right:204px;">37,11</div>
<div class="t" style="top:656px;color:#1c1cd4;right:158px;">-12</div>
<div class="t" style="top:656px;color:#1c1cd4;right:115.60000000000002px;">43,28</div>
<div class="t" style="top:656px;color:#1c1cd4;right:50.299999999999955px;">47,10</div>
<div class="t" style="top:656px;color:#1c1cd4;right:3.7999999999999545px;">-8</div>
<div class="t" style="top:676px;color:#1c1cd4;font-weight:bold;left:2px;">BETETZE-MAILA</div>
<div class="t" style="top:688px;color:#1c1cd4;font-weight:bold;letter-spacing:-0.66px;left:3px;">GELAKA</div>
<div class="t" style="top:683px;color:#1c1cd4;right:560px;">40,17</div>
<div class="t" style="top:683px;color:#1c1cd4;right:496.5px;">42,18</div>
<div class="t" style="top:683px;color:#1c1cd4;right:450px;">-5</div>
<div class="t" style="top:683px;color:#1c1cd4;right:414px;">29,78</div>
<div class="t" style="top:683px;color:#1c1cd4;right:356.7px;">25,82</div>
<div class="t" style="top:683px;color:#1c1cd4;right:310px;">15</div>
<div class="t" style="top:683px;color:#1c1cd4;right:268.7px;">36,13</div>
<div class="t" style="top:683px;color:#1c1cd4;right:204px;">39,05</div>
<div class="t" style="top:683px;color:#1c1cd4;right:158px;">-7</div>
<div class="t" style="top:683px;color:#1c1cd4;right:115.60000000000002px;">47,61</div>
<div class="t" style="top:683px;color:#1c1cd4;right:50.299999999999955px;">51,04</div>
<div class="t" style="top:683px;color:#1c1cd4;right:3.7999999999999545px;">-7</div>
</body></html>
